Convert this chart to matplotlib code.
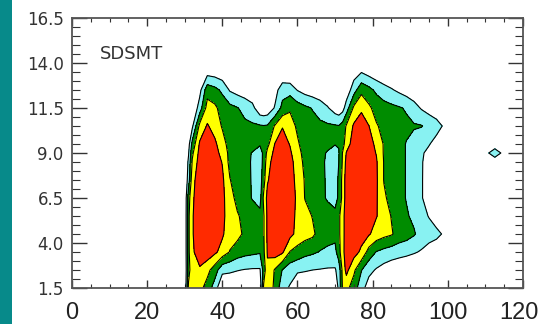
import matplotlib
matplotlib.use("Agg")
import matplotlib.pyplot as plt
import matplotlib.transforms as mtransforms
import numpy as np
from matplotlib.patches import Rectangle
from matplotlib.ticker import FixedLocator, MultipleLocator, FormatStrFormatter

# grid nodes: distance along the x axis and height (km)
dist = [28, 30, 31, 32, 34, 36, 38, 40, 42, 44, 46, 48, 50,
        51, 52, 54, 56, 58, 60, 62, 64, 66, 68, 70,
        71, 72, 73, 75, 77, 79, 81, 83, 85, 87, 89, 91, 93, 95, 97, 99, 101,
        110, 112.5, 115]
height = [1.5, 2.5, 3.5, 4.5, 5.5, 6.5, 7.5, 8.5, 9.0, 9.5, 10.5, 11.5, 12.5, 13.5, 14.5]

x_ticks = [0, 20, 40, 60, 80, 100, 120]
y_ticks = [1.5, 4.0, 6.5, 9.0, 11.5, 14.0, 16.5]

# field values along dist, one list per height
z_1_5 = [0, 0, 3.2, 3.6, 3.3, 2.6, 1.5, 0, 0, 0, 0, 0, 0,
         3.2, 3.6, 2.8, 1.3, 0.9, 0, 0, 0, 0, 0, 0,
         1.3, 3.1, 3.3, 2.5, 1.4, 0.5, 0, 0, 0, 0, 0, 0, 0, 0, 0, 0, 0,
         0, 0, 0]
z_2_5 = [0, 0, 2.6, 3.7, 3.85, 3.3, 2.5, 1.3, 1.2, 1.05, 0.95, 0.9, 0.9,
         2.4, 3.8, 2.9, 1.95, 1.4, 1.2, 1.1, 1.0, 0.95, 0.9, 0.9,
         1.4, 3.3, 4.3, 3.2, 2.05, 1.3, 0.9, 0.6, 0.4, 0.2, 0, 0, 0, 0, 0, 0, 0,
         0, 0, 0]
z_3_5 = [0, 0, 2.8, 3.8, 4.6, 4.6, 4.2, 3.6, 2.95, 2.5, 2.3, 2.2, 2.1,
         2.8, 4.1, 4.5, 4.15, 2.95, 2.6, 2.3, 2.15, 1.95, 1.8, 1.7,
         2.6, 3.7, 4.5, 4.4, 3.8, 2.6, 1.95, 1.7, 1.5, 1.4, 1.3, 1.1, 0.9, 0.6, 0.5, 0.3, 0,
         0, 0, 0]
z_4_5 = [0, 0, 2.8, 3.9, 4.7, 4.8, 4.7, 4.15, 3.4, 3.3, 2.8, 2.4, 2.3,
         2.9, 4.2, 4.7, 4.6, 4.3, 3.7, 3.4, 3.2, 2.6, 2.4, 2.3,
         2.8, 3.6, 4.6, 4.6, 4.4, 4.1, 3.6, 3.3, 3.1, 2.6, 2.4, 2.1, 1.6, 1.4, 1.2, 0.9, 0.3,
         0, 0, 0]
z_5_5 = [0, 0, 2.8, 3.9, 4.7, 4.8, 4.7, 4.2, 3.6, 3.1, 2.7, 2.4, 2.3,
         2.9, 4.2, 4.7, 4.6, 4.35, 3.8, 3.4, 2.95, 2.6, 2.4, 2.3,
         2.8, 3.6, 4.6, 4.7, 4.6, 4.4, 4.05, 3.5, 2.95, 2.5, 2.1, 1.8, 1.3, 0.95, 0.6, 0.4, 0,
         0, 0, 0]
z_6_5 = [0, 0, 2.6, 3.8, 4.7, 4.8, 4.7, 4.25, 3.4, 2.7, 2.3, 1.95, 1.6,
         3.2, 4.3, 4.7, 4.7, 4.4, 3.85, 2.95, 2.6, 2.25, 1.9, 1.6,
         2.2, 3.3, 4.5, 4.7, 4.7, 4.5, 4.1, 3.2, 2.6, 2.3, 1.95, 1.5, 1.05, 0.7, 0.4, 0.2, 0,
         0, 0, 0]
z_7_5 = [0, 0, 1.5, 3.6, 4.7, 4.8, 4.7, 4.2, 3.05, 2.5, 2.2, 1.95, 1.5,
         2.6, 3.9, 4.6, 4.7, 4.35, 3.75, 2.9, 2.5, 2.2, 1.9, 1.5,
         2.2, 3.3, 4.5, 4.7, 4.7, 4.5, 4.15, 2.95, 2.6, 2.3, 1.95, 1.5, 1.05, 0.7, 0.4, 0.2, 0,
         0, 0, 0]
z_8_5 = [0, 0, 1.2, 3.1, 4.5, 4.7, 4.5, 3.95, 2.7, 2.4, 2.15, 1.95, 1.5,
         2.3, 3.6, 4.5, 4.6, 4.3, 3.6, 2.7, 2.4, 2.15, 1.9, 1.5,
         2.0, 3.1, 4.3, 4.6, 4.7, 4.5, 4.1, 2.95, 2.6, 2.3, 1.95, 1.5, 1.05, 0.75, 0.5, 0.3, 0,
         0, 0, 0]
z_9_0 = [0, 0, 0.9, 2.8, 4.35, 4.6, 4.35, 3.7, 2.7, 2.35, 2.15, 1.97, 1.6,
         2.2, 3.3, 4.3, 4.5, 4.15, 3.4, 2.6, 2.35, 2.15, 1.95, 1.6,
         1.95, 3.05, 4.05, 4.6, 4.6, 4.45, 3.95, 2.9, 2.6, 2.3, 1.95, 1.5, 1.1, 0.8, 0.5, 0.3, 0,
         0.5, 1.9, 0.5]
z_9_5 = [0, 0, 0.6, 2.3, 4.15, 4.5, 4.2, 3.4, 2.6, 2.4, 2.3, 2.2, 2.1,
         2.3, 2.7, 4.05, 4.4, 3.95, 3.15, 2.5, 2.35, 2.25, 2.15, 2.05,
         2.05, 2.6, 3.5, 4.5, 4.55, 4.35, 3.8, 2.9, 2.6, 2.3, 1.95, 1.6, 1.3, 1.05, 0.7, 0.4, 0,
         0, 0, 0]
z_10_5 = [0, 0, 0, 0.8, 3.3, 4.1, 3.6, 2.9, 2.5, 2.3, 2.2, 2.15, 2.1,
          2.05, 2.1, 3.1, 3.95, 3.5, 2.8, 2.45, 2.3, 2.2, 2.15, 2.1,
          2.05, 2.4, 3.1, 4.15, 4.3, 4.02, 3.1, 2.7, 2.5, 2.3, 2.2, 2.1, 2.05, 1.7, 1.3, 0.9, 0.4,
          0, 0, 0]
z_11_5 = [0, 0, 0, 0, 1.5, 3.4, 3.2, 2.6, 2.3, 2.05, 1.7, 1.3, 0.3,
          0.2, 0.3, 1.1, 2.3, 2.85, 2.5, 2.2, 1.95, 1.6, 1.1, 0.5,
          0.3, 0.6, 1.5, 3.2, 3.9, 3.2, 2.6, 2.4, 2.25, 2.1, 1.9, 1.4, 0.9, 0.6, 0.5, 0.3, 0,
          0, 0, 0]
z_12_5 = [0, 0, 0, 0, 0.7, 2.6, 2.3, 1.8, 0.9, 0.6, 0.4, 0.2, 0,
          0, 0, 0.6, 1.6, 1.6, 0.95, 0.6, 0.4, 0.2, 0, 0,
          0, 0, 0.3, 1.6, 2.7, 2.3, 1.8, 1.4, 1.1, 0.8, 0.5, 0.3, 0, 0, 0, 0, 0,
          0, 0, 0]
z_13_5 = [0, 0, 0, 0, 0.2, 0.6, 0.5, 0.3, 0.1, 0, 0, 0, 0,
          0, 0, 0, 0.1, 0, 0, 0, 0, 0, 0, 0,
          0, 0, 0, 0.5, 0.95, 0.6, 0.3, 0.1, 0, 0, 0, 0, 0, 0, 0, 0, 0,
          0, 0, 0]
z_14_5 = [0] * len(dist)

field = np.array([z_1_5, z_2_5, z_3_5, z_4_5, z_5_5, z_6_5, z_7_5, z_8_5,
                  z_9_0, z_9_5, z_10_5, z_11_5, z_12_5, z_13_5, z_14_5])

levels = [1, 2, 3, 4, 10]
fill_colors = ["#88f2f2", "#008c00", "#ffff00", "#ff2a00"]

fig = plt.figure(figsize=(5.41, 3.24), dpi=100)
fig.add_artist(Rectangle((0, 0), 12 / 541, 1, transform=fig.transFigure,
                         facecolor="#078a8a", edgecolor="none"))

ax = fig.add_axes([0.1331, 0.1111, 0.8336, 0.8333])
ax.contourf(dist, height, field, levels=levels, colors=fill_colors)
ax.contour(dist, height, field, levels=levels[:-1], colors="black", linewidths=0.8)

ax.set_xlim(0, 120)
ax.set_ylim(1.5, 16.5)
ax.xaxis.set_major_locator(FixedLocator(x_ticks))
ax.xaxis.set_minor_locator(MultipleLocator(5))
ax.yaxis.set_major_locator(FixedLocator(y_ticks))
ax.yaxis.set_minor_locator(MultipleLocator(0.5))
ax.yaxis.set_major_formatter(FormatStrFormatter("%.1f"))

ax.tick_params(which="both", direction="in", top=True, right=True, colors="#333333")
ax.tick_params(axis="x", which="major", length=6, width=1.0, pad=10,
               labelsize=17, labelfontfamily="Liberation Sans", labelcolor="#222222")
ax.tick_params(axis="x", which="minor", length=3, width=0.8)
ax.tick_params(axis="y", which="major", length=11, width=1.0, pad=6,
               labelsize=12, labelcolor="#333333")
ax.tick_params(axis="y", which="minor", length=5.5, width=0.8)
for s in ax.spines.values():
    s.set_color("#555555")
    s.set_linewidth(1.3)

# last x label sits at the canvas edge; nudge it inward a little
last = ax.get_xticklabels()[-1]
last.set_transform(last.get_transform() +
                   mtransforms.ScaledTranslation(-3 / 72, 0, fig.dpi_scale_trans))

ax.text(0.062, 0.867, "SDSMT", transform=ax.transAxes, fontsize=13,
        ha="left", va="center", color="#333333")

fig.savefig("out.png", dpi=100)
